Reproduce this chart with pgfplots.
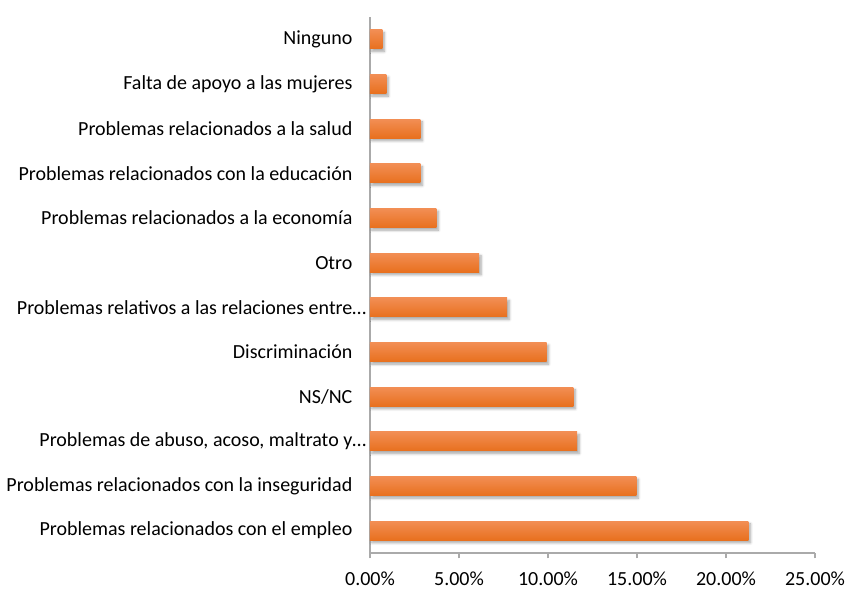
\documentclass[border=0pt]{standalone}
\usepackage{pgfplots}
\pgfplotsset{compat=1.18}
\usepackage{fontspec}
\setmainfont{Carlito}
\usetikzlibrary{shadows.blur}
\definecolor{barTop}{RGB}{242,142,84}
\definecolor{barBot}{RGB}{232,112,30}
\definecolor{axGray}{RGB}{170,170,170}
\pgfplotsset{
  onebar/.style={draw=none, top color=barTop, bottom color=barBot, bar shift=0pt,
    blur shadow={shadow xshift=1.5pt, shadow yshift=-2pt, shadow blur steps=6, shadow opacity=35}},
}
\begin{document}
\begin{tikzpicture}[font=\fontsize{15}{17}\selectfont]
  \begin{axis}[
      name=ax,
      scale only axis,
      width=333.75pt, height=402pt,
      xbar, bar width=14.25pt,
      xmin=0, xmax=25,
      ymin=-0.5, ymax=11.5,
      axis x line*=bottom, axis y line*=left,
      axis line style={axGray, line width=0.9pt},
      xtick={0,5,10,15,20,25},
      xticklabels={0.00\%,5.00\%,10.00\%,15.00\%,20.00\%,25.00\%},
      ytick={0,...,11},
      yticklabels={
        {Problemas relacionados con el empleo},
        {Problemas relacionados con la inseguridad},
        {Problemas de abuso, acoso, maltrato y\rlap{…}},
        {NS/NC},
        {Discriminación},
        {Problemas relativos a las relaciones entre\rlap{…}},
        {Otro},
        {Problemas relacionados a la economía},
        {Problemas relacionados con la educación},
        {Problemas relacionados a la salud},
        {Falta de apoyo a las mujeres},
        {Ninguno}},
      minor ytick={-0.5,0.5,...,11.5},
      tick align=outside,
      major tick length=4pt,
      minor tick length=4pt,
      every tick/.style={axGray, line width=0.9pt},
      every y tick/.style={draw=none},
      every minor tick/.style={axGray, line width=0.9pt},
      tick label style={font=\fontsize{15}{17}\selectfont, black},
      y tick label style={inner sep=0pt, xshift=-9pt},
      x tick label style={inner sep=0pt, yshift=-10pt},
    ]
    \addplot[onebar] coordinates {(21.26,0)};
    \addplot[onebar] coordinates {(14.96,1)};
    \addplot[onebar] coordinates {(11.64,2)};
    \addplot[onebar] coordinates {(11.42,3)};
    \addplot[onebar] coordinates {(9.92,4)};
    \addplot[onebar] coordinates {(7.71,5)};
    \addplot[onebar] coordinates {(6.13,6)};
    \addplot[onebar] coordinates {(3.73,7)};
    \addplot[onebar] coordinates {(2.83,8)};
    \addplot[onebar] coordinates {(2.83,9)};
    \addplot[onebar] coordinates {(0.92,10)};
    \addplot[onebar] coordinates {(0.69,11)};
  \end{axis}
  \path[use as bounding box] ([xshift=-277.5pt,yshift=-29.25pt]ax.south west) rectangle ++(638.25pt,444pt);
\end{tikzpicture}
\end{document}
